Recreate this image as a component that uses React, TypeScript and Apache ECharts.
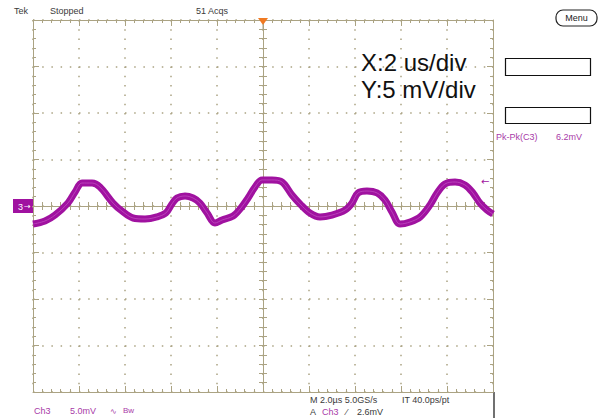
import React, { useEffect, useRef } from "react";
import * as echarts from "echarts";

// time in microseconds (2 us/div), Ch3 voltage in mV (5 mV/div)
const timeUs = [
  -10, -9.48, -9.04, -8.48, -8.17, -7.87, -7.43, -7.09, -6.52, -6.13, -5.65, -5.13, -4.61, -4.22,
  -3.96, -3.74, -3.39, -3.04, -2.74, -2.43, -2.09, -1.78, -1.3, -0.96, -0.65, -0.35, -0.04, 0.39,
  0.83, 1.26, 1.61, 2.04, 2.48, 3.0, 3.57, 3.87, 4.13, 4.52, 4.96, 5.3, 5.61, 5.96, 6.39, 6.83,
  7.26, 7.57, 7.91, 8.35, 8.78, 9.13, 9.43, 9.74, 10,
];
const ch3mV = [
  -1.94, -1.61, -0.97, 0.32, 1.51, 2.47, 2.47, 2.04, 0.32, -0.54, -1.29, -1.4, -1.18, -0.75,
  0.22, 0.86, 1.08, 0.86, 0.32, -0.75, -1.83, -1.51, -1.08, -0.22, 0.86, 2.04, 2.8, 2.8,
  2.58, 1.18, 0.22, -0.75, -1.18, -0.97, -0.43, 0.32, 1.4, 1.61, 1.4, 0.65, -0.65, -1.94, -1.72, -1.18,
  0.11, 1.4, 2.37, 2.58, 2.26, 1.4, 0.32, -0.43, -0.86,
];
const xRange = [-10, 10];
const yRange = [-20, 20];
const triggerLevelMv = 2.6;

const GRID = "#aba383";
const TRACE = "#a012a0";
const PURPLE_TXT = "#a83aa8";
const DARK = "#3a3a3a";

export default function App() {
  const ref = useRef<HTMLDivElement>(null);
  useEffect(() => {
    if (!ref.current) return;
    const chart = echarts.init(ref.current, null, { renderer: "svg" });
    const data = timeUs.map((t, i) => [t, ch3mV[i]]);
    const small = "9px 'Liberation Sans', Arial, sans-serif";

    const borderX = (position: "top" | "bottom", split: boolean) => ({
      type: "value",
      min: xRange[0],
      max: xRange[1],
      interval: 2,
      position,
      axisLine: { show: true, onZero: false, lineStyle: { color: GRID, width: 1 } },
      axisTick: { show: true, inside: true, length: 6, lineStyle: { color: GRID } },
      minorTick: { show: true, splitNumber: 5, length: 3, lineStyle: { color: GRID } },
      axisLabel: { show: false },
      splitLine: {
        show: split,
        lineStyle: { color: GRID, width: 1.5, type: [1.5, 7.8] },
      },
      minorSplitLine: { show: false },
    });
    const centerX = (inside: boolean) => ({
      type: "value",
      min: xRange[0],
      max: xRange[1],
      interval: 2,
      position: "bottom",
      axisLine: { show: true, onZero: true, onZeroAxisIndex: 0, lineStyle: { color: GRID, width: 1 } },
      axisTick: { show: true, inside, length: 4, lineStyle: { color: GRID } },
      minorTick: { show: true, splitNumber: 5, length: 4, lineStyle: { color: GRID } },
      axisLabel: { show: false },
      splitLine: { show: false },
    });
    const borderY = (position: "left" | "right", split: boolean) => ({
      type: "value",
      min: yRange[0],
      max: yRange[1],
      interval: 5,
      position,
      axisLine: { show: true, onZero: false, lineStyle: { color: GRID, width: 1 } },
      axisTick: { show: true, inside: true, length: 6, lineStyle: { color: GRID } },
      minorTick: { show: true, splitNumber: 5, length: 3, lineStyle: { color: GRID } },
      axisLabel: { show: false },
      splitLine: {
        show: split,
        lineStyle: { color: GRID, width: 1.5, type: [1.5, 7.7] },
      },
    });
    const centerY = (inside: boolean) => ({
      type: "value",
      min: yRange[0],
      max: yRange[1],
      interval: 5,
      position: "left",
      axisLine: { show: true, onZero: true, onZeroAxisIndex: 0, lineStyle: { color: GRID, width: 1 } },
      axisTick: { show: true, inside, length: 4, lineStyle: { color: GRID } },
      minorTick: { show: true, splitNumber: 5, length: 4, lineStyle: { color: GRID } },
      axisLabel: { show: false },
      splitLine: { show: false },
    });

    const trigY = 206 - (triggerLevelMv / 5) * 46.5;

    chart.setOption({
      animation: false,
      backgroundColor: "#ffffff",
      grid: { left: 33, top: 20, width: 460, height: 372, containLabel: false },
      xAxis: [borderX("bottom", true), borderX("top", false), centerX(true), centerX(false)],
      yAxis: [borderY("left", true), borderY("right", false), centerY(true), centerY(false)],
      series: [
        {
          type: "line",
          data,
          xAxisIndex: 0,
          yAxisIndex: 0,
          smooth: 0.35,
          showSymbol: false,
          symbol: "none",
          lineStyle: { color: TRACE, width: 7 },
          z: 5,
        },
        {
          type: "line",
          data,
          xAxisIndex: 0,
          yAxisIndex: 0,
          smooth: 0.35,
          showSymbol: false,
          symbol: "none",
          lineStyle: { color: "#c04cc0", width: 0.8 },
          z: 6,
        },
      ],
      graphic: [
        { type: "text", x: 14, y: 11, style: { text: "Tek", fill: DARK, font: small, verticalAlign: "middle" } },
        { type: "text", x: 50, y: 11, style: { text: "Stopped", fill: DARK, font: small, verticalAlign: "middle" } },
        { type: "text", x: 196, y: 11, style: { text: "51 Acqs", fill: DARK, font: small, verticalAlign: "middle" } },
        // trigger position marker
        { type: "polygon", shape: { points: [[258, 18], [268, 18], [263, 25]] }, style: { fill: "#f07a22" }, z: 20 },
        { type: "line", shape: { x1: 263, y1: 24, x2: 263, y2: 30 }, style: { stroke: GRID, lineWidth: 1 }, z: 20 },
        // Menu button
        { type: "rect", shape: { x: 556, y: 10, width: 41, height: 16, r: 7 }, style: { fill: "#fff", stroke: "#222", lineWidth: 1.2 } },
        { type: "text", x: 576.5, y: 18, style: { text: "Menu", fill: "#222", font: small, align: "center", verticalAlign: "middle" } },
        // readout boxes
        { type: "rect", shape: { x: 505.5, y: 58.5, width: 85, height: 17 }, style: { fill: "#fff", stroke: "#111", lineWidth: 1.2 } },
        { type: "rect", shape: { x: 505.5, y: 107.5, width: 85, height: 16 }, style: { fill: "#fff", stroke: "#111", lineWidth: 1.2 } },
        { type: "text", x: 496, y: 137, style: { text: "Pk-Pk(C3)", fill: PURPLE_TXT, font: small, verticalAlign: "middle" } },
        { type: "text", x: 556, y: 137, style: { text: "6.2mV", fill: PURPLE_TXT, font: small, verticalAlign: "middle" } },
        // big annotation
        { type: "text", x: 361, y: 62, style: { text: "X:2 us/div", fill: "#111", font: "24px 'Liberation Sans', Arial, sans-serif", verticalAlign: "middle" }, z: 20 },
        { type: "text", x: 361, y: 89, style: { text: "Y:5 mV/div", fill: "#111", font: "24px 'Liberation Sans', Arial, sans-serif", verticalAlign: "middle" }, z: 20 },
        // channel ground marker
        { type: "rect", shape: { x: 13, y: 199, width: 20, height: 14 }, style: { fill: TRACE } },
        { type: "text", x: 18, y: 206.5, style: { text: "3", fill: "#fff", font: small, verticalAlign: "middle" } },
        { type: "text", x: 24, y: 206, style: { text: "→", fill: "#fff", font: "8px 'DejaVu Sans', sans-serif", verticalAlign: "middle" } },
        // trigger level arrow
        { type: "text", x: 481, y: trigY, style: { text: "←", fill: TRACE, font: "10px 'DejaVu Sans', sans-serif", verticalAlign: "middle" }, z: 20 },
        // bottom readouts
        { type: "line", shape: { x1: 494, y1: 392, x2: 494, y2: 418 }, style: { stroke: "#111", lineWidth: 1.2 } },
        { type: "text", x: 34, y: 411, style: { text: "Ch3", fill: PURPLE_TXT, font: small, verticalAlign: "middle" } },
        { type: "text", x: 70, y: 411, style: { text: "5.0mV", fill: PURPLE_TXT, font: small, verticalAlign: "middle" } },
        { type: "text", x: 110, y: 411, style: { text: "∿", fill: PURPLE_TXT, font: "8px 'DejaVu Sans', sans-serif", verticalAlign: "middle" } },
        { type: "text", x: 123, y: 410, style: { text: "Bw", fill: PURPLE_TXT, font: "8px 'Liberation Sans', Arial, sans-serif", verticalAlign: "middle" } },
        { type: "text", x: 310, y: 400, style: { text: "M 2.0µs 5.0GS/s", fill: DARK, font: small, verticalAlign: "middle" } },
        { type: "text", x: 402, y: 400, style: { text: "IT 40.0ps/pt", fill: DARK, font: small, verticalAlign: "middle" } },
        { type: "text", x: 310, y: 412, style: { text: "A", fill: DARK, font: small, verticalAlign: "middle" } },
        { type: "text", x: 322, y: 412, style: { text: "Ch3", fill: PURPLE_TXT, font: small, verticalAlign: "middle" } },
        { type: "text", x: 346, y: 412, style: { text: "⁄", fill: DARK, font: small, verticalAlign: "middle" } },
        { type: "text", x: 357, y: 412, style: { text: "2.6mV", fill: DARK, font: small, verticalAlign: "middle" } },
      ],
    });
    return () => chart.dispose();
  }, []);
  return (
    <div
      ref={ref}
      style={{ position: "fixed", left: 0, top: 0, width: 605, height: 418, background: "#fff" }}
    />
  );
}
